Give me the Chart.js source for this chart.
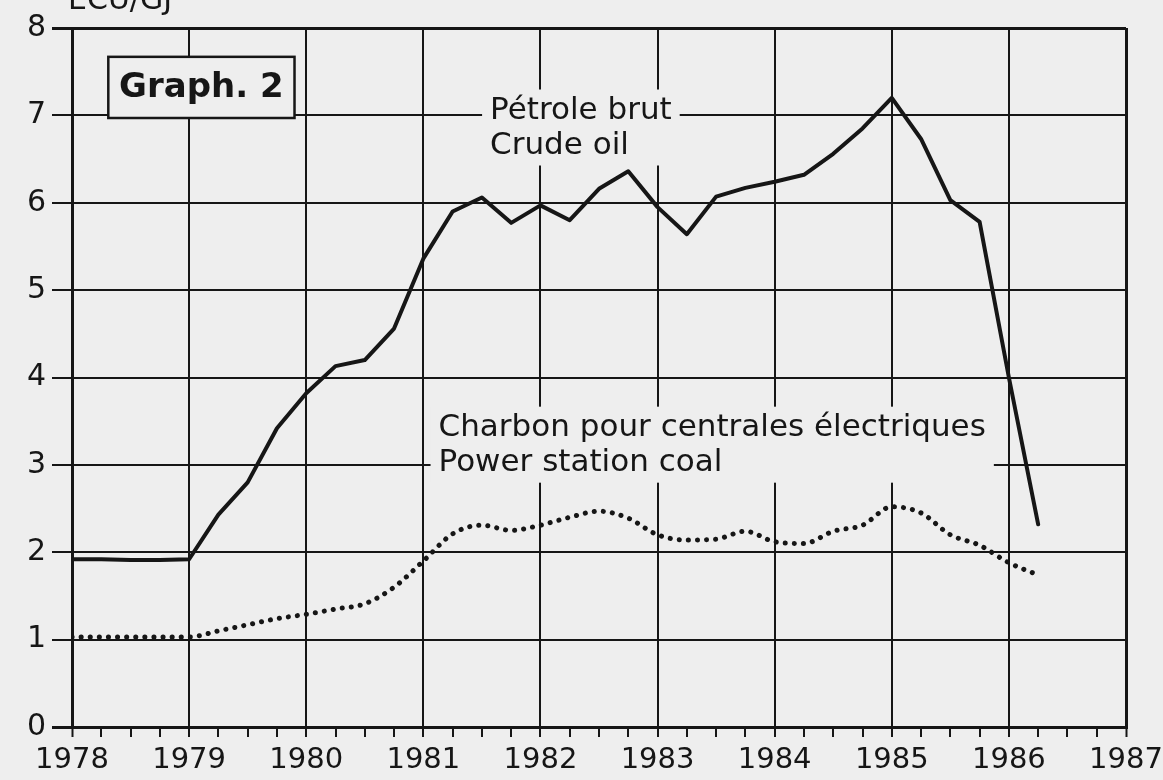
<!DOCTYPE html>
<html>
<head>
<meta charset="utf-8">
<script src="https://cdn.jsdelivr.net/npm/chart.js@4"></script>
<style>
  body { margin: 0; background: #eeeeee; }
  canvas { display: block; }
</style>
</head>
<body>
<canvas id="chart" width="1163" height="780"></canvas>
<script>
// quarterly points, ECU per GJ
const quarters = [
    1978, 1978.25, 1978.5, 1978.75,
    1979, 1979.25, 1979.5, 1979.75,
    1980, 1980.25, 1980.5, 1980.75,
    1981, 1981.25, 1981.5, 1981.75,
    1982, 1982.25, 1982.5, 1982.75,
    1983, 1983.25, 1983.5, 1983.75,
    1984, 1984.25, 1984.5, 1984.75,
    1985, 1985.25, 1985.5, 1985.75,
    1986, 1986.25
];
const crudeOil = [
    1.92, 1.92, 1.91, 1.91,
    1.92, 2.43, 2.8, 3.42,
    3.82, 4.13, 4.2, 4.56,
    5.36, 5.9, 6.06, 5.77,
    5.97, 5.8, 6.16, 6.36,
    5.95, 5.64, 6.07, 6.17,
    6.24, 6.32, 6.56, 6.85,
    7.2, 6.73, 6.03, 5.78,
    4.0, 2.32
];
const coal = [
    1.03, 1.03, 1.03, 1.03,
    1.03, 1.1, 1.17, 1.24,
    1.29, 1.35, 1.41, 1.6,
    1.9, 2.21, 2.31, 2.25,
    2.31, 2.4, 2.47, 2.39,
    2.2, 2.14, 2.15, 2.24,
    2.12, 2.1, 2.24, 2.31,
    2.52, 2.45, 2.2, 2.08,
    1.88, 1.74
];
const yearLabels = ["1978", "1979", "1980", "1981", "1982", "1983", "1984", "1985", "1986", "1987"];
const yTicks = [0, 1, 2, 3, 4, 5, 6, 7, 8];

const unitLabel = "ECU/GJ";
const graphTitle = "Graph. 2";
const oilLabel = ["Pétrole brut", "Crude oil"];
const coalLabel = ["Charbon pour centrales électriques", "Power station coal"];

const BG = "#eeeeee";
const INK = "#161616";
const FONT = "'DejaVu Sans', sans-serif";

const isYear = v => Math.abs(v - Math.round(v)) < 1e-6;

// draws text blocks over the grid, with a background patch behind them
function textBlock(ctx, lines, x, y, lineH, font) {
    ctx.font = font;
    let w = 0;
    lines.forEach(l => { w = Math.max(w, ctx.measureText(l).width); });
    ctx.fillStyle = BG;
    ctx.fillRect(x - 8, y - lineH / 2 - 4, w + 16, lineH * lines.length + 6);
    ctx.fillStyle = INK;
    ctx.textAlign = "left";
    ctx.textBaseline = "middle";
    lines.forEach((l, i) => ctx.fillText(l, x, y + i * lineH));
}

const labelsPlugin = {
    id: "labels",
    afterDraw(chart) {
        const { ctx, scales: { x, y }, chartArea } = chart;
        ctx.save();

        // unit at the top, partly off the page like the scan
        ctx.font = "30px " + FONT;
        ctx.fillStyle = INK;
        ctx.textAlign = "left";
        ctx.textBaseline = "alphabetic";
        ctx.fillText(unitLabel, chartArea.left - 4, chartArea.top - 19);

        // "Graph. 2" box
        const bx0 = x.getPixelForValue(1978.31), bx1 = x.getPixelForValue(1979.9);
        const by0 = y.getPixelForValue(7.67), by1 = y.getPixelForValue(6.97);
        ctx.fillStyle = BG;
        ctx.fillRect(bx0, by0, bx1 - bx0, by1 - by0);
        ctx.strokeStyle = INK;
        ctx.lineWidth = 2.5;
        ctx.strokeRect(bx0, by0, bx1 - bx0, by1 - by0);
        ctx.font = "bold 34px " + FONT;
        ctx.fillStyle = INK;
        ctx.textAlign = "center";
        ctx.textBaseline = "middle";
        ctx.fillText(graphTitle, (bx0 + bx1) / 2, (by0 + by1) / 2 + 1);

        textBlock(ctx, oilLabel, x.getPixelForValue(1981.57), y.getPixelForValue(7.05), 35, "31px " + FONT);
        textBlock(ctx, coalLabel, x.getPixelForValue(1981.13), y.getPixelForValue(3.42), 35, "31px " + FONT);

        ctx.restore();
    }
};

new Chart(document.getElementById("chart"), {
    type: "line",
    data: {
        labels: quarters,
        datasets: [
            {
                label: oilLabel.join(" / "),
                data: quarters.map((q, i) => ({ x: q, y: crudeOil[i] })),
                borderColor: INK,
                borderWidth: 4,
                borderJoinStyle: "round",
                borderCapStyle: "round",
                pointRadius: 0,
                tension: 0,
                fill: false
            },
            {
                label: coalLabel.join(" / "),
                data: quarters.map((q, i) => ({ x: q, y: coal[i] })),
                borderColor: INK,
                borderWidth: 5,
                borderCapStyle: "round",
                borderDash: [0.1, 9],
                pointRadius: 0,
                cubicInterpolationMode: "monotone",
                fill: false
            }
        ]
    },
    options: {
        responsive: false,
        animation: false,
        layout: { padding: { top: 28, right: 37, left: 0, bottom: 0 } },
        plugins: {
            legend: { display: false },
            tooltip: { enabled: false }
        },
        scales: {
            x: {
                type: "linear",
                min: 1978,
                max: 1987,
                afterBuildTicks: s => {
                    const t = [];
                    for (let i = 0; i <= 36; i++) t.push({ value: 1978 + i * 0.25 });
                    s.ticks = t;
                },
                afterFit: s => {
                    s.height = 53;
                    s.paddingLeft = 0;
                    s.paddingRight = 0;
                },
                border: { display: true, color: INK, width: 3 },
                grid: {
                    color: c => isYear(c.tick.value) ? INK : "rgba(0,0,0,0)",
                    lineWidth: c => (c.tick.value === 1978 || c.tick.value === 1987) ? 3 : 2,
                    tickColor: INK,
                    tickWidth: 2,
                    tickLength: 10
                },
                ticks: {
                    autoSkip: false,
                    maxRotation: 0,
                    padding: 6,
                    color: INK,
                    font: { family: FONT, size: 29 },
                    callback: v => isYear(v) ? yearLabels[Math.round(v) - 1978] : ""
                }
            },
            y: {
                min: 0,
                max: 8,
                afterBuildTicks: s => { s.ticks = yTicks.map(v => ({ value: v })); },
                afterFit: s => { s.width = 72; },
                border: { display: true, color: INK, width: 3 },
                grid: {
                    color: INK,
                    lineWidth: c => (c.tick.value === 0 || c.tick.value === 8) ? 3 : 2,
                    tickLength: 20
                },
                ticks: {
                    padding: 6,
                    color: INK,
                    font: { family: FONT, size: 30 }
                }
            }
        }
    },
    plugins: [labelsPlugin]
});
</script>
</body>
</html>
